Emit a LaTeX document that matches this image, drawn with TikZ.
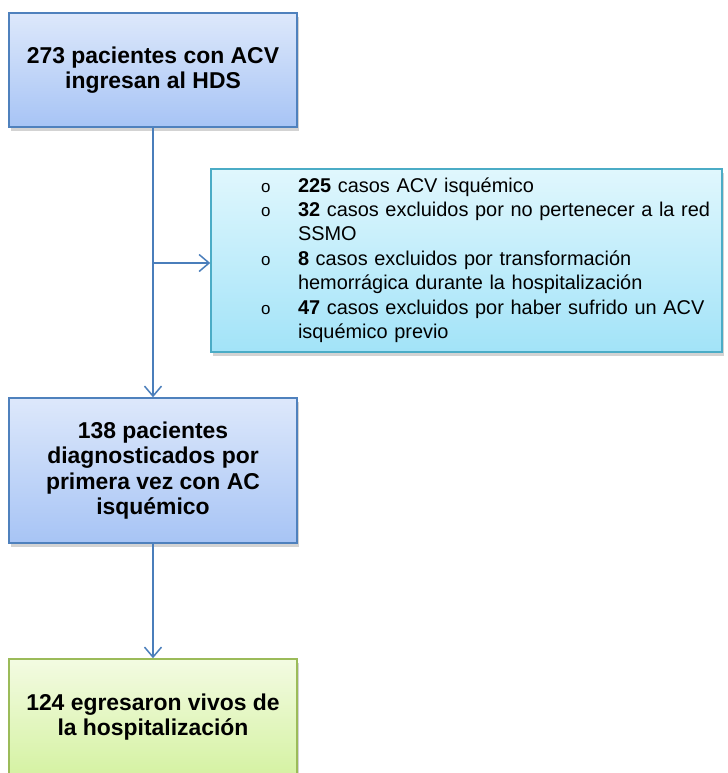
\documentclass[tikz,border=0pt]{standalone}
\usepackage{fontspec}
\setmainfont{Liberation Sans}
\usetikzlibrary{arrows.meta,shadows}
\definecolor{lineblue}{HTML}{4A7EBB}
\definecolor{blueedge}{HTML}{4F81BD}
\definecolor{bluetop}{HTML}{DDE8FB}
\definecolor{bluebot}{HTML}{A7C4F5}
\definecolor{cyanedge}{HTML}{4BACC6}
\definecolor{cyantop}{HTML}{E0F7FD}
\definecolor{cyanbot}{HTML}{A2E3F8}
\definecolor{greenedge}{HTML}{9BBB59}
\definecolor{greentop}{HTML}{F3FBE2}
\definecolor{greenbot}{HTML}{D5F2A3}
\newcommand\bulo{{\fontsize{17}{17}\selectfont o}}
\begin{document}
\begin{tikzpicture}[x=1bp,y=-1bp,
  box/.style={draw=blueedge,line width=1.5bp,top color=bluetop,bottom color=bluebot,
    minimum width=288bp,inner sep=0pt,align=center,
    font=\bfseries\fontsize{23}{25.5}\selectfont,
    drop shadow={shadow xshift=2bp,shadow yshift=-4bp,opacity=0.35}},
  greenbox/.style={box,draw=greenedge,top color=greentop,bottom color=greenbot},
  excl/.style={box,draw=cyanedge,top color=cyantop,bottom color=cyanbot,
    minimum width=511bp,minimum height=183bp,text width=511bp,align=left,
    font=\fontsize{20}{24.5}\selectfont},
  link/.style={draw=lineblue,line width=1.5bp,-{Straight Barb[length=10bp,width=17bp]}}]
\useasboundingbox (0,0) rectangle (728,773);

\node[box,minimum height=114bp](ingreso) at (153,70) {273 pacientes con ACV\\ingresan al HDS};
\node[excl](excl) at (466.5,260.5) {\hspace*{50bp}\begin{tabular}{@{}p{37bp}@{}l@{}}
\bulo & \textbf{225} casos ACV isquémico\\
\bulo & \textbf{32} casos excluidos por no pertenecer a la red\\
 & SSMO\\
\bulo & \textbf{8} casos excluidos por transformación\\
 & hemorrágica durante la hospitalización\\
\bulo & \textbf{47} casos excluidos por haber sufrido un ACV\\
 & isquémico previo
\end{tabular}};
\node[box,minimum height=145bp](diag) at (153,470.5) {138 pacientes\\diagnosticados por\\primera vez con AC\\isquémico};
\node[greenbox,minimum height=116bp](egreso) at (153,717) {124 egresaron vivos de\\la hospitalización};

\coordinate (split) at (ingreso.south |- 0,263);

\draw[link] (ingreso) -- (diag);
\draw[link] (split) -- (split -| excl.west);
\draw[link] (diag) -- (egreso);
\end{tikzpicture}
\end{document}
